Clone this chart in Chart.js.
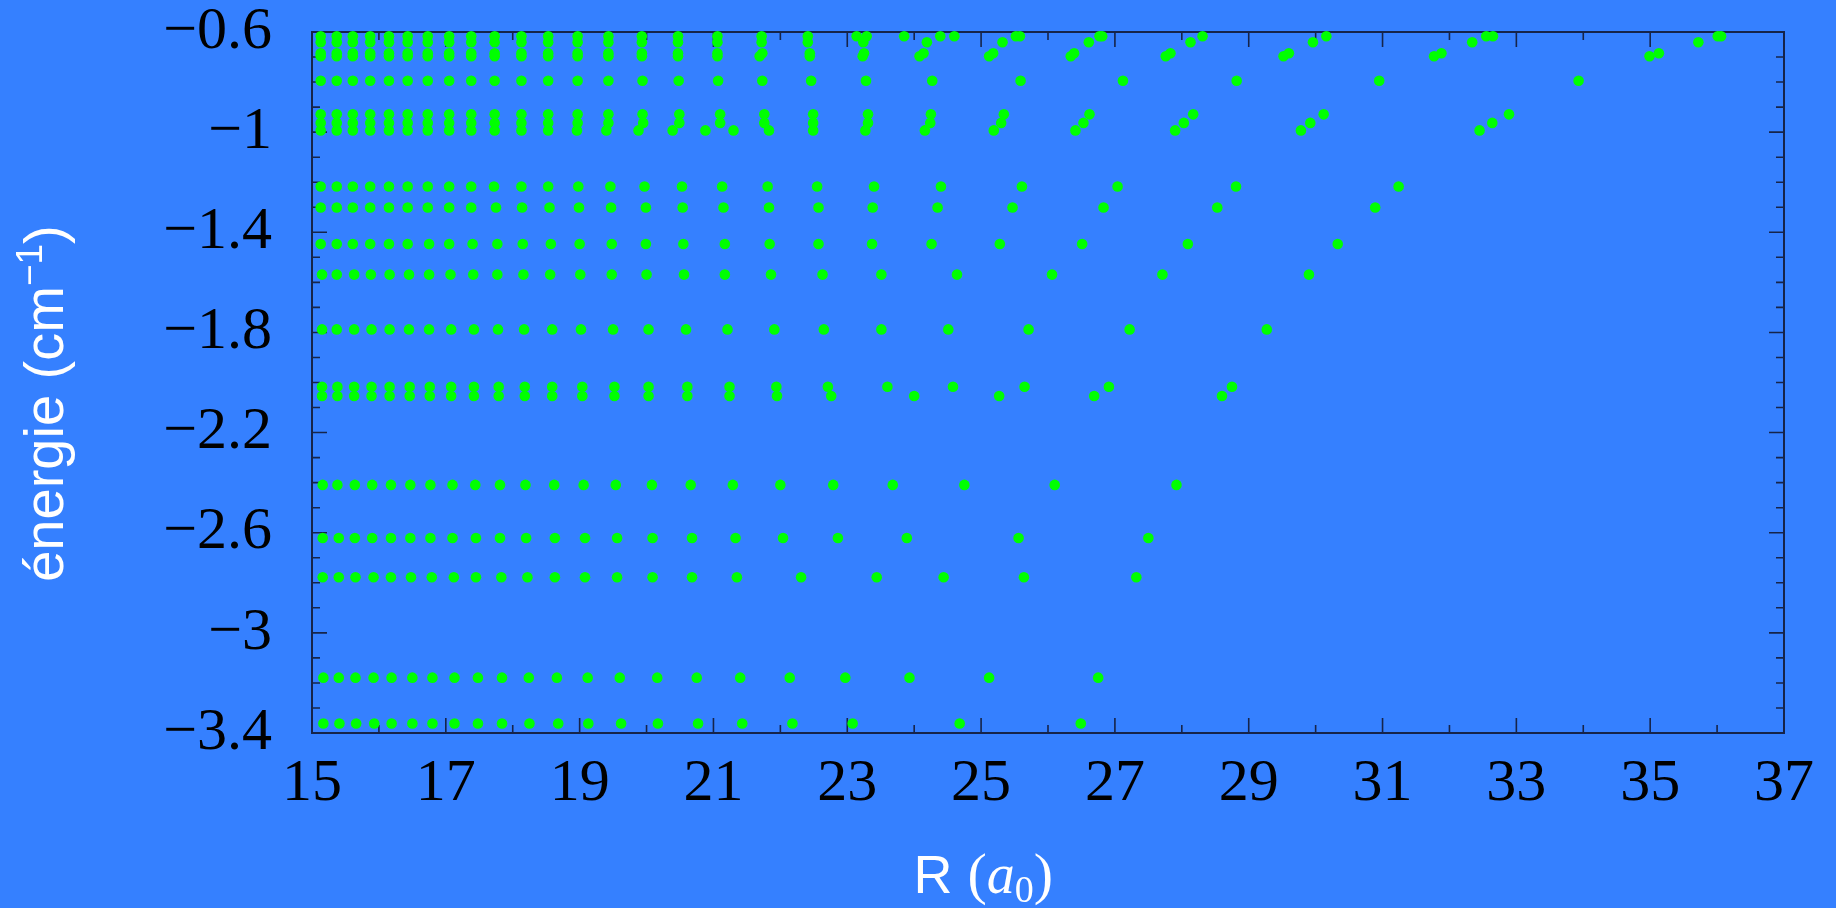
<!DOCTYPE html>
<html lang="fr">
<head>
  <meta charset="UTF-8">
  <title>Niveaux d'énergie en fonction de R</title>
  <script src="https://cdn.jsdelivr.net/npm/chart.js"></script>
  <style>
    html, body { margin: 0; padding: 0; background: #3580ff; }
    .chart-container { position: relative; width: 1836px; height: 908px; }
  </style>
</head>
<body>
<div class="chart-container">
  <canvas id="levelChart"></canvas>
</div>

<script>
// energy of each row (cm^-1)
const levels = [-0.617, -0.641, -0.685, -0.697, -0.795, -0.929, -0.963, -0.993,
  -1.217, -1.301, -1.447, -1.569, -1.788, -2.017, -2.054, -2.409, -2.621, -2.778, -3.179, -3.362];

// R positions (a0) of the points in each row
const rA = [15.13, 15.37, 15.61, 15.87, 16.15, 16.43, 16.73, 17.05, 17.38, 17.73, 18.13, 18.53, 18.97, 19.43,
  19.93, 20.47, 21.06, 21.72, 22.41, 23.14, 23.29, 23.85, 24.39, 24.60, 25.52, 25.58, 26.77, 26.81, 28.31, 30.16, 32.55, 32.65, 36.01, 36.06];
const rB = [15.13, 15.37, 15.61, 15.87, 16.15, 16.43, 16.73, 17.05, 17.38, 17.73, 18.13, 18.53, 18.97, 19.43,
  19.93, 20.47, 21.06, 21.72, 22.41, 23.24, 24.19, 25.32, 26.61, 28.13, 29.96, 32.34, 35.72];
const rC1 = [15.13, 15.37, 15.61, 15.87, 16.15, 16.43, 16.73, 17.05, 17.38, 17.73, 18.13, 18.53, 18.97, 19.43,
  19.93, 20.47, 21.06, 21.73, 22.44, 23.25, 24.14, 25.18, 26.39, 27.83, 29.60, 31.88, 35.13];
const rC2 = [15.13, 15.37, 15.61, 15.87, 16.15, 16.43, 16.73, 17.05, 17.38, 17.73, 18.13, 18.53, 18.97, 19.43,
  19.93, 20.47, 21.06, 21.69, 22.44, 23.23, 24.08, 25.12, 26.34, 27.76, 29.52, 31.77, 34.99];
const rD = [15.13, 15.37, 15.61, 15.87, 16.15, 16.43, 16.73, 17.05, 17.38, 17.73, 18.13, 18.53, 18.97, 19.43,
  19.94, 20.48, 21.07, 21.73, 22.46, 23.28, 24.27, 25.59, 27.12, 28.82, 30.95, 33.93];
const rE1 = [15.13, 15.37, 15.61, 15.87, 16.15, 16.43, 16.73, 17.05, 17.38, 17.73, 18.13, 18.53, 18.97, 19.43,
  19.94, 20.49, 21.10, 21.76, 22.49, 23.31, 24.25, 25.34, 26.62, 28.17, 30.12, 32.89];
const rE2 = [15.13, 15.37, 15.61, 15.87, 16.15, 16.43, 16.73, 17.05, 17.38, 17.73, 18.13, 18.53, 18.97, 19.43,
  19.95, 20.49, 21.10, 21.76, 22.49, 23.31, 24.24, 25.30, 26.53, 28.03, 29.92, 32.64];
const rE3 = [15.13, 15.37, 15.61, 15.87, 16.15, 16.43, 16.73, 17.05, 17.38, 17.73, 18.13, 18.53, 18.96, 19.40,
  19.88, 20.39, 20.88, 21.30, 21.83, 22.49, 23.27, 24.16, 25.19, 26.41, 27.90, 29.78, 32.45];
const rF = [15.13, 15.37, 15.61, 15.87, 16.15, 16.43, 16.73, 17.05, 17.38, 17.72, 18.13, 18.53, 18.98, 19.46,
  19.97, 20.53, 21.13, 21.81, 22.55, 23.40, 24.40, 25.61, 27.04, 28.81, 31.24];
const rG = [15.13, 15.37, 15.61, 15.87, 16.15, 16.43, 16.73, 17.05, 17.38, 17.75, 18.14, 18.55, 18.99, 19.47,
  19.99, 20.54, 21.15, 21.83, 22.57, 23.38, 24.35, 25.47, 26.83, 28.53, 30.89];
const rH = [15.13, 15.37, 15.61, 15.87, 16.15, 16.43, 16.75, 17.05, 17.40, 17.77, 18.15, 18.57, 19.00, 19.48,
  19.99, 20.55, 21.17, 21.84, 22.57, 23.37, 24.26, 25.28, 26.51, 28.09, 30.33];
const rI = [15.15, 15.37, 15.63, 15.88, 16.16, 16.45, 16.75, 17.07, 17.41, 17.77, 18.16, 18.56, 19.01, 19.48,
  20.00, 20.56, 21.17, 21.86, 22.63, 23.51, 24.64, 26.06, 27.71, 29.90];
const rJ = [15.15, 15.37, 15.63, 15.89, 16.16, 16.45, 16.75, 17.08, 17.42, 17.78, 18.17, 18.59, 19.02, 19.50,
  20.03, 20.59, 21.21, 21.91, 22.65, 23.51, 24.51, 25.71, 27.22, 29.27];
const rK1 = [15.15, 15.38, 15.63, 15.89, 16.16, 16.46, 16.76, 17.08, 17.42, 17.79, 18.18, 18.59, 19.04, 19.52,
  20.03, 20.61, 21.24, 21.94, 22.71, 23.60, 24.58, 25.65, 26.91, 28.75];
const rK2 = [15.15, 15.38, 15.63, 15.89, 16.16, 16.46, 16.76, 17.08, 17.42, 17.79, 18.18, 18.59, 19.04, 19.52,
  20.03, 20.61, 21.24, 21.95, 22.76, 24.00, 25.27, 26.69, 28.60];
const rL = [15.16, 15.38, 15.64, 15.90, 16.18, 16.47, 16.77, 17.10, 17.44, 17.81, 18.19, 18.62, 19.06, 19.54,
  20.08, 20.66, 21.29, 22.00, 22.79, 23.68, 24.75, 26.10, 27.92];
const rM = [15.16, 15.40, 15.64, 15.90, 16.18, 16.47, 16.77, 17.10, 17.45, 17.81, 18.20, 18.63, 19.08, 19.56,
  20.09, 20.68, 21.33, 22.04, 22.86, 23.89, 25.56, 27.50];
const rN = [15.16, 15.40, 15.65, 15.92, 16.18, 16.48, 16.79, 17.12, 17.45, 17.83, 18.22, 18.63, 19.08, 19.56,
  20.09, 20.68, 21.35, 22.31, 23.44, 24.44, 25.64, 27.32];
const rO = [15.17, 15.40, 15.65, 15.92, 16.19, 16.50, 16.80, 17.13, 17.48, 17.84, 18.24, 18.66, 19.12, 19.60,
  20.16, 20.75, 21.40, 22.14, 22.97, 23.93, 25.12, 26.75];
const rP = [15.17, 15.41, 15.66, 15.93, 16.19, 16.50, 16.80, 17.13, 17.48, 17.84, 18.25, 18.68, 19.13, 19.62,
  20.17, 20.77, 21.43, 22.18, 23.08, 24.68, 26.49];

const rows = [rA, rB, rC1, rC2, rD, rE1, rE2, rE3, rF, rG, rH, rI, rJ, rK1, rK2, rL, rM, rN, rO, rP];

// axis ticks
const xTicks = [15, 17, 19, 21, 23, 25, 27, 29, 31, 33, 35, 37];
const xMinor = [16, 18, 20, 22, 24, 26, 28, 30, 32, 34, 36];
const yTicks = [-3.4, -3.0, -2.6, -2.2, -1.8, -1.4, -1.0, -0.6];
const yMinor = [];
for (let k = 0; k <= 28; k++) {
  if (k % 4 !== 0) yMinor.push(-3.4 + k * 0.1);
}

const points = [];
rows.forEach((rs, i) => {
  rs.forEach(r => points.push({ x: r, y: levels[i] }));
});

const frameColor = '#16244a';

// box around the plot, with ticks pointing inward on all four sides
const framePlugin = {
  id: 'frame',
  beforeDatasetsDraw(chart) {
    const { ctx, chartArea: a, scales } = chart;
    ctx.save();
    ctx.strokeStyle = frameColor;
    ctx.lineWidth = 2;
    ctx.strokeRect(a.left, a.top, a.right - a.left, a.bottom - a.top);
    ctx.lineWidth = 1.6;
    ctx.beginPath();
    const xTick = (v, len) => {
      const px = scales.x.getPixelForValue(v);
      ctx.moveTo(px, a.bottom); ctx.lineTo(px, a.bottom - len);
      ctx.moveTo(px, a.top); ctx.lineTo(px, a.top + len);
    };
    const yTick = (v, len) => {
      const py = scales.y.getPixelForValue(v);
      ctx.moveTo(a.left, py); ctx.lineTo(a.left + len, py);
      ctx.moveTo(a.right, py); ctx.lineTo(a.right - len, py);
    };
    xTicks.forEach(v => xTick(v, 15));
    xMinor.forEach(v => xTick(v, 8));
    yTicks.forEach(v => yTick(v, 15));
    yMinor.forEach(v => yTick(v, 8));
    ctx.stroke();
    ctx.restore();
  }
};

// draws a run of text pieces (different fonts / raised or lowered) centred on 0
function drawPieces(ctx, pieces) {
  let total = 0;
  pieces.forEach(p => { ctx.font = p.font; p.w = ctx.measureText(p.text).width; total += p.w; });
  let x = -total / 2;
  pieces.forEach(p => {
    ctx.font = p.font;
    ctx.fillText(p.text, x, p.dy || 0);
    x += p.w;
  });
}

// axis titles with super/subscripts
const titlePlugin = {
  id: 'axisTitles',
  afterDraw(chart) {
    const { ctx, chartArea: a } = chart;
    ctx.save();
    ctx.fillStyle = '#ffffff';
    ctx.textBaseline = 'alphabetic';
    ctx.textAlign = 'left';

    ctx.save();
    ctx.translate(63, a.top + (a.bottom - a.top) * 0.53);
    ctx.rotate(-Math.PI / 2);
    drawPieces(ctx, [
      { text: 'énergie (cm', font: '56px "Liberation Sans"' },
      { text: '−1', font: '37px "Liberation Sans"', dy: -21 },
      { text: ')', font: '56px "Liberation Sans"' }
    ]);
    ctx.restore();

    ctx.save();
    ctx.translate(a.left + (a.right - a.left) * 0.456, 893);
    drawPieces(ctx, [
      { text: 'R ', font: '54px "Liberation Sans"' },
      { text: '(', font: '58px "Liberation Serif"' },
      { text: 'a', font: 'italic 56px "Liberation Serif"' },
      { text: '0', font: '38px "Liberation Serif"', dy: 9 },
      { text: ')', font: '58px "Liberation Serif"' }
    ]);
    ctx.restore();

    ctx.restore();
  }
};

const labelFont = { family: '"Liberation Serif", "Times New Roman", serif', size: 60, lineHeight: 1 };

new Chart(document.getElementById('levelChart'), {
  type: 'scatter',
  data: {
    datasets: [{
      data: points,
      pointRadius: 5.3,
      pointHoverRadius: 5.3,
      pointBorderWidth: 0,
      pointBackgroundColor: '#00ff00',
      clip: false
    }]
  },
  options: {
    responsive: true,
    maintainAspectRatio: false,
    animation: false,
    events: [],
    layout: { padding: { top: 32, right: 52, bottom: 0, left: 0 } },
    plugins: { legend: { display: false }, tooltip: { enabled: false } },
    scales: {
      x: {
        type: 'linear',
        min: 15,
        max: 37,
        afterBuildTicks: s => { s.ticks = xTicks.map(v => ({ value: v })); },
        afterFit: s => { s.height = 175; s.paddingLeft = 0; s.paddingRight = 0; },
        grid: { display: false, drawTicks: false },
        border: { display: false },
        ticks: { font: labelFont, color: '#000000', padding: 21, maxRotation: 0, autoSkip: false }
      },
      y: {
        type: 'linear',
        min: -3.4,
        max: -0.6,
        afterBuildTicks: s => { s.ticks = yTicks.map(v => ({ value: v })); },
        afterFit: s => { s.width = 312; s.paddingTop = 0; s.paddingBottom = 0; },
        grid: { display: false, drawTicks: false },
        border: { display: false },
        ticks: {
          font: labelFont,
          color: '#000000',
          padding: 40,
          autoSkip: false,
          callback: v => (v < 0 ? '−' : '') + Math.abs(Math.round(v * 10) / 10)
        }
      }
    }
  },
  plugins: [framePlugin, titlePlugin]
});
</script>
</body>
</html>
